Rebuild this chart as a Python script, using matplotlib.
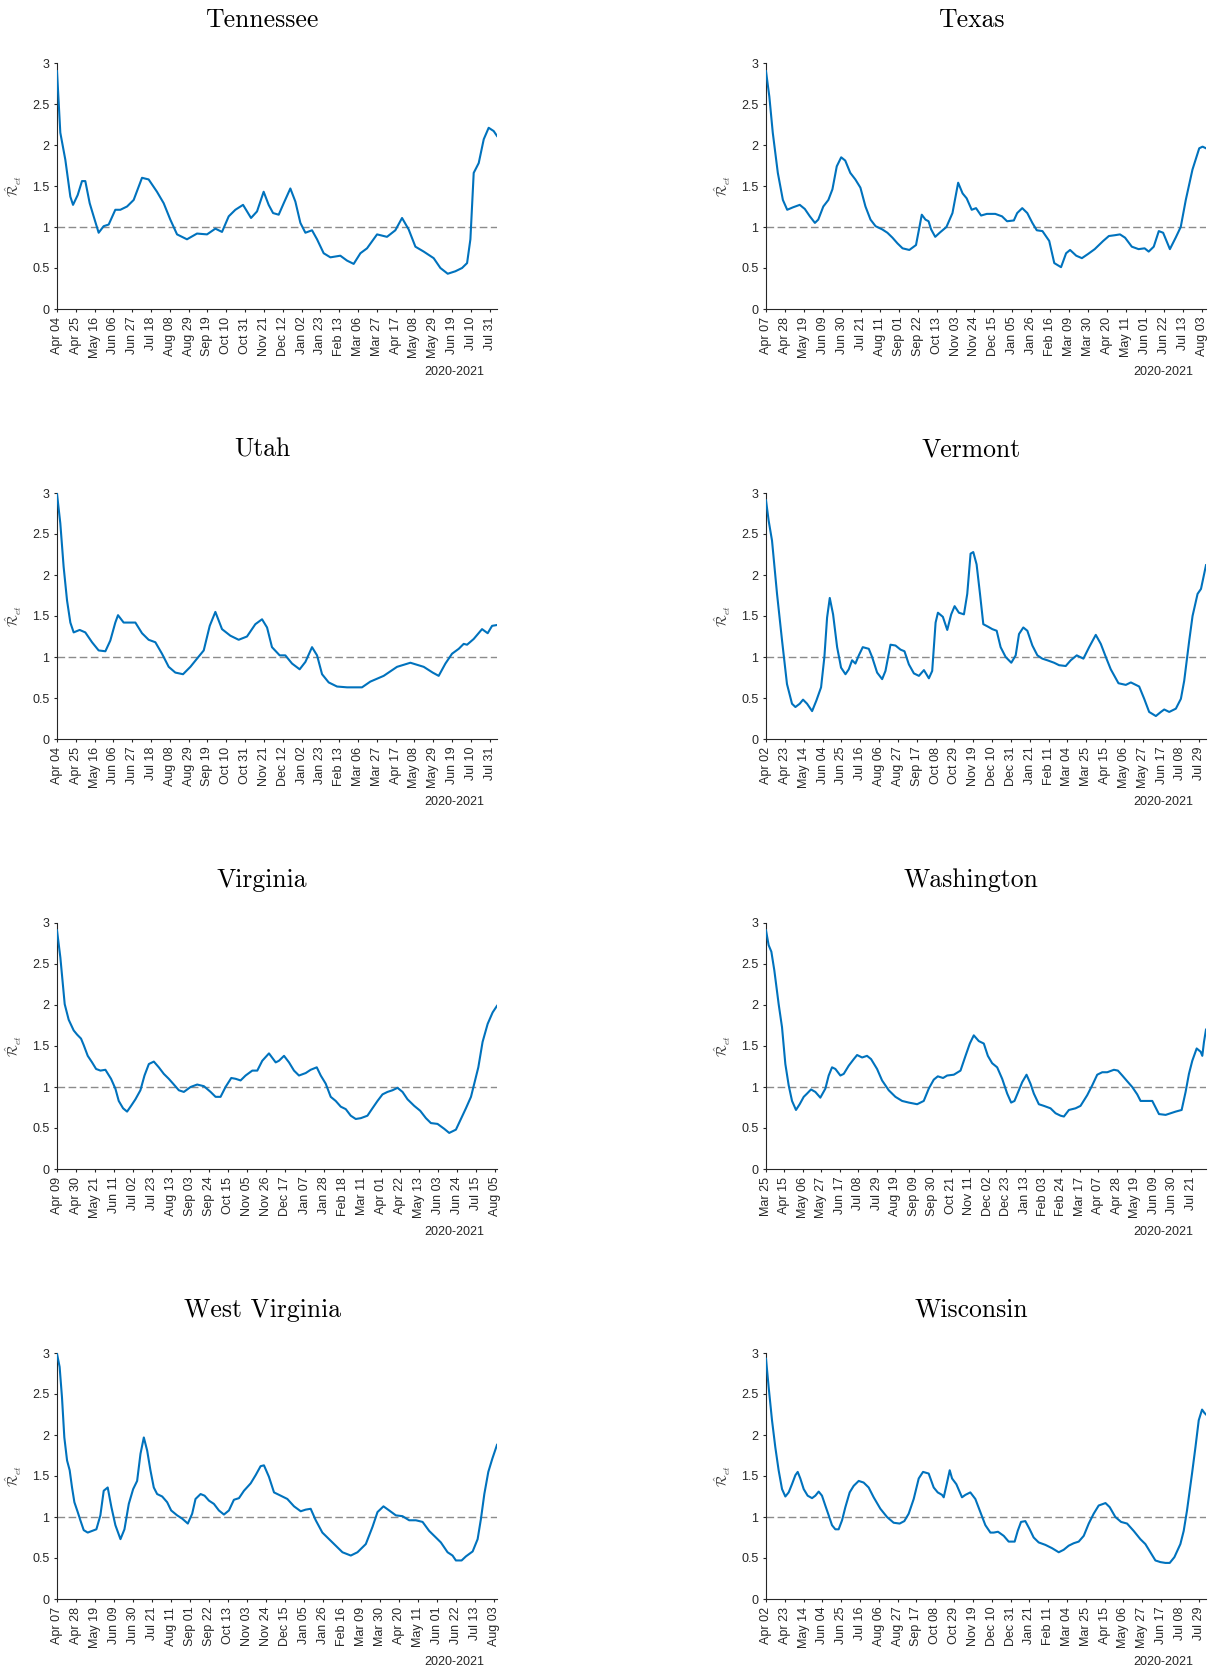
import numpy as np
import matplotlib
matplotlib.use("Agg")
import matplotlib.pyplot as plt
import matplotlib.dates as mdates

plt.rcParams["font.family"] = ["Liberation Sans", "DejaVu Sans"]
plt.rcParams["mathtext.fontset"] = "cm"

# --- data: days since first estimate, R_et estimate ---
states = ["Tennessee", "Texas", "Utah", "Vermont",
          "Virginia", "Washington", "West Virginia", "Wisconsin"]
start_dates = ["2020-04-04", "2020-04-07", "2020-04-04", "2020-04-02",
               "2020-04-09", "2020-03-25", "2020-04-07", "2020-04-02"]

tn_days = [0, 3.7, 9.3, 14.9, 17.9, 23.1, 27.9, 31.6, 36.5, 40.9, 46.5, 52.1, 57.7, 65.1, 70.7,
           78.2, 85.6, 94.9, 102.3, 111.6, 119.1, 126.5, 134.0, 145.1, 156.3, 167.5, 176.8, 184.2,
           191.7, 199.1, 207.7, 216.6, 223.3, 230.7, 236.3, 241.2, 247.5, 253.1, 260.5, 266.1,
           271.7, 277.3, 284.7, 290.3, 297.7, 305.2, 316.3, 323.8, 331.2, 338.7, 346.1, 357.3,
           368.4, 377.7, 385.2, 392.6, 400.1, 409.4, 420.5, 428.0, 436.2, 444.7, 452.2, 457.8,
           461.5, 465.2, 470.8, 476.4, 481.9, 487.5, 491.2]
tn_r = [2.90, 2.15, 1.82, 1.37, 1.27, 1.39, 1.56, 1.56, 1.29, 1.13, 0.93, 1.01, 1.03, 1.21, 1.21,
        1.25, 1.33, 1.60, 1.58, 1.43, 1.29, 1.09, 0.91, 0.85, 0.92, 0.91, 0.98, 0.94,
        1.13, 1.21, 1.27, 1.11, 1.19, 1.43, 1.27, 1.17, 1.15, 1.29, 1.47, 1.31,
        1.05, 0.93, 0.96, 0.85, 0.68, 0.63, 0.65, 0.59, 0.55, 0.68, 0.74, 0.91,
        0.88, 0.96, 1.11, 0.97, 0.76, 0.70, 0.62, 0.50, 0.43, 0.46, 0.50, 0.56,
        0.85, 1.66, 1.78, 2.07, 2.21, 2.17, 2.11]

tx_days = [0, 3.7, 7.5, 13.1, 18.7, 23.5, 29.9, 37.4, 43.0, 48.6, 54.2, 57.9, 63.5, 69.1, 73.6,
           78.4, 83.3, 87.8, 93.4, 99.0, 104.6, 110.2, 115.8, 121.4, 128.9, 134.5, 140.1, 145.7,
           151.3, 158.8, 166.2, 172.6, 176.7, 180.1, 183.0, 187.5, 192.4, 199.9, 206.6, 212.9,
           217.8, 222.3, 227.9, 232.7, 238.3, 244.7, 254.0, 261.5, 267.1, 274.6, 278.3, 283.9,
           289.5, 295.1, 300.0, 306.3, 313.8, 319.4, 326.9, 332.5, 336.9, 343.7, 350.0, 356.7,
           364.2, 373.6, 379.9, 386.6, 392.2, 397.8, 405.3, 412.8, 419.5, 424.0, 429.6, 435.2,
           440.0, 447.5, 453.9, 459.5, 465.1, 472.5, 480.0, 483.7, 487.5]
tx_r = [2.90, 2.59, 2.15, 1.66, 1.33, 1.21, 1.24, 1.27, 1.22, 1.13, 1.05, 1.09, 1.25, 1.33, 1.46,
        1.74, 1.85, 1.81, 1.66, 1.58, 1.48, 1.25, 1.09, 1.01, 0.97, 0.93, 0.87, 0.80,
        0.74, 0.72, 0.78, 1.15, 1.09, 1.07, 0.97, 0.88, 0.93, 1.00, 1.17, 1.54,
        1.41, 1.35, 1.21, 1.23, 1.14, 1.16, 1.16, 1.13, 1.07, 1.08, 1.17, 1.23,
        1.17, 1.05, 0.96, 0.95, 0.83, 0.56, 0.51, 0.68, 0.72, 0.65, 0.62, 0.67,
        0.73, 0.83, 0.89, 0.90, 0.91, 0.87, 0.76, 0.73, 0.74, 0.70, 0.76, 0.95,
        0.93, 0.73, 0.87, 1.00, 1.33, 1.70, 1.96, 1.98, 1.96]

ut_days = [0, 3.7, 7.4, 11.2, 14.9, 18.6, 25.3, 31.6, 39.1, 46.5, 54.0, 59.5, 65.1, 68.1, 74.4,
           81.9, 87.5, 94.9, 102.3, 109.8, 117.2, 124.7, 132.1, 140.7, 148.9, 156.3, 163.8, 170.5,
           176.8, 184.2, 193.5, 202.8, 212.1, 221.4, 228.9, 234.5, 240.0, 248.6, 254.9, 262.4,
           270.9, 277.3, 284.7, 290.3, 295.9, 303.3, 312.6, 323.8, 340.5, 349.8, 364.7, 379.6,
           394.5, 409.4, 419.4, 426.1, 433.6, 441.0, 448.5, 454.0, 457.8, 465.2, 474.5, 480.8,
           485.7, 491.2]
ut_r = [2.99, 2.63, 2.10, 1.69, 1.42, 1.30, 1.33, 1.30, 1.18, 1.08, 1.07, 1.20, 1.42, 1.51, 1.42,
        1.42, 1.42, 1.29, 1.21, 1.18, 1.04, 0.88, 0.81, 0.79, 0.88, 0.98, 1.08, 1.38,
        1.55, 1.34, 1.26, 1.21, 1.25, 1.40, 1.46, 1.36, 1.12, 1.02, 1.02, 0.92,
        0.85, 0.94, 1.12, 1.02, 0.79, 0.69, 0.64, 0.63, 0.63, 0.70, 0.77, 0.88,
        0.93, 0.88, 0.81, 0.77, 0.92, 1.04, 1.10, 1.16, 1.15, 1.22, 1.34, 1.29,
        1.38, 1.39]

vt_days = [0, 3.0, 6.7, 12.3, 17.9, 23.4, 29.0, 32.8, 37.6, 41.3, 45.8, 51.4, 56.2, 61.4, 65.1,
           68.1, 71.1, 74.8, 79.3, 83.7, 88.6, 92.3, 96.0, 99.7, 103.5, 107.9, 114.6, 118.3,
           123.9, 129.5, 133.2, 138.8, 144.4, 150.0, 154.4, 159.3, 164.9, 170.5, 176.1, 181.6,
           185.3, 189.1, 191.7, 197.2, 202.1, 206.5, 210.3, 215.1, 220.7, 224.4, 228.1, 231.1,
           234.8, 238.6, 242.3, 247.5, 252.3, 257.2, 261.6, 267.2, 273.5, 278.4, 282.1, 286.9,
           291.4, 297.0, 302.6, 308.1, 313.7, 321.2, 326.8, 334.2, 339.8, 346.5, 353.9, 360.3,
           367.7, 373.3, 378.9, 384.4, 393.0, 401.2, 406.8, 416.1, 421.7, 427.2, 434.7, 440.3,
           444.0, 449.6, 457.0, 462.6, 466.3, 471.9, 475.6, 481.2, 485.0, 490.6]
vt_r = [2.91, 2.66, 2.42, 1.77, 1.20, 0.67, 0.43, 0.39, 0.43, 0.48, 0.43, 0.34, 0.47, 0.63, 1.00,
        1.48, 1.72, 1.52, 1.12, 0.87, 0.79, 0.85, 0.96, 0.92, 1.02, 1.12, 1.10, 1.00,
        0.81, 0.73, 0.83, 1.15, 1.14, 1.09, 1.07, 0.91, 0.80, 0.77, 0.84, 0.74,
        0.83, 1.42, 1.54, 1.49, 1.33, 1.52, 1.62, 1.54, 1.52, 1.77, 2.26, 2.28,
        2.13, 1.77, 1.40, 1.37, 1.34, 1.32, 1.12, 1.00, 0.93, 1.02, 1.28, 1.36,
        1.32, 1.14, 1.02, 0.98, 0.96, 0.93, 0.90, 0.89, 0.96, 1.02, 0.98, 1.12,
        1.27, 1.16, 1.00, 0.85, 0.68, 0.66, 0.69, 0.64, 0.49, 0.33, 0.28, 0.33,
        0.36, 0.33, 0.37, 0.49, 0.71, 1.20, 1.50, 1.77, 1.83, 2.12]

va_days = [0, 3.7, 8.5, 12.9, 18.4, 22.1, 26.5, 29.5, 33.9, 38.7, 43.1, 47.9, 53.4, 59.6, 64.4,
           68.1, 72.9, 77.3, 81.7, 86.5, 92.0, 96.5, 101.3, 106.8, 112.3, 117.8, 123.3, 128.9,
           134.4, 139.9, 147.3, 154.6, 162.0, 169.4, 174.9, 180.4, 185.9, 192.2, 197.0, 202.5,
           208.0, 215.4, 220.9, 226.4, 233.8, 241.2, 244.8, 250.4, 255.9, 261.4, 266.9, 274.3,
           279.8, 286.5, 290.9, 296.4, 301.9, 307.4, 313.0, 318.5, 324.0, 329.5, 335.1, 342.4,
           347.9, 353.5, 359.0, 364.5, 370.0, 375.6, 381.1, 386.6, 394.0, 400.6, 406.9, 412.4,
           419.7, 427.1, 432.6, 440.0, 445.5, 451.0, 456.6, 460.2, 464.7, 469.4, 475.0, 480.5,
           485.3]
va_r = [2.91, 2.58, 2.01, 1.82, 1.69, 1.64, 1.59, 1.51, 1.38, 1.30, 1.22, 1.20, 1.21, 1.10, 0.98,
        0.83, 0.74, 0.70, 0.77, 0.85, 0.96, 1.14, 1.28, 1.31, 1.24, 1.16, 1.10, 1.03,
        0.96, 0.94, 1.00, 1.03, 1.01, 0.94, 0.88, 0.88, 1.00, 1.11, 1.10, 1.08,
        1.14, 1.20, 1.20, 1.32, 1.41, 1.30, 1.32, 1.38, 1.30, 1.20, 1.14, 1.17,
        1.21, 1.24, 1.14, 1.04, 0.88, 0.83, 0.76, 0.73, 0.65, 0.61, 0.62, 0.65,
        0.74, 0.83, 0.91, 0.94, 0.96, 0.99, 0.94, 0.85, 0.77, 0.71, 0.62, 0.56,
        0.55, 0.49, 0.44, 0.48, 0.61, 0.74, 0.88, 1.04, 1.24, 1.55, 1.77, 1.91,
        1.99]

wa_days = [0, 3.0, 6.1, 9.5, 14.4, 18.2, 22.0, 25.8, 29.6, 34.1, 38.3, 42.9, 46.7, 51.2, 56.1,
           61.8, 67.5, 71.3, 75.1, 78.9, 84.6, 88.4, 94.1, 99.8, 103.6, 109.3, 114.9, 119.5,
           126.3, 132.0, 139.6, 147.2, 154.8, 162.4, 171.9, 179.4, 185.1, 190.8, 195.4, 201.4,
           206.0, 213.6, 221.2, 226.9, 231.8, 236.3, 242.0, 247.7, 252.3, 257.2, 262.9, 268.6,
           274.3, 278.8, 282.6, 287.6, 291.4, 296.3, 300.8, 304.6, 310.3, 316.0, 323.6, 329.3,
           335.0, 338.8, 344.5, 352.0, 357.7, 365.3, 371.0, 376.7, 382.4, 388.1, 395.7, 400.2,
           405.2, 410.8, 416.5, 422.2, 426.0, 433.6, 439.3, 443.1, 446.9, 454.5, 460.2, 465.9,
           472.7, 477.2, 481.0, 484.8, 489.8, 494.3, 496.2, 498.1, 500.4]
wa_r = [2.91, 2.73, 2.65, 2.42, 2.01, 1.73, 1.28, 1.02, 0.83, 0.72, 0.79, 0.88, 0.92, 0.97, 0.94,
        0.87, 0.98, 1.14, 1.24, 1.22, 1.14, 1.16, 1.26, 1.34, 1.39, 1.36, 1.38, 1.34,
        1.22, 1.08, 0.96, 0.88, 0.83, 0.81, 0.79, 0.83, 0.98, 1.09, 1.13, 1.11,
        1.14, 1.15, 1.20, 1.38, 1.53, 1.63, 1.56, 1.53, 1.38, 1.29, 1.24, 1.10,
        0.92, 0.81, 0.83, 0.96, 1.06, 1.15, 1.04, 0.92, 0.79, 0.77, 0.74, 0.68,
        0.65, 0.64, 0.72, 0.74, 0.77, 0.90, 1.02, 1.15, 1.18, 1.18, 1.21, 1.20,
        1.14, 1.07, 1.00, 0.91, 0.83, 0.83, 0.83, 0.75, 0.67, 0.66, 0.68, 0.70,
        0.72, 0.94, 1.16, 1.32, 1.47, 1.43, 1.38, 1.55, 1.70]

wv_days = [0, 2.9, 5.5, 8.1, 11.1, 14.0, 16.6, 19.2, 22.9, 25.8, 29.5, 33.9, 38.7, 43.5, 47.9,
           51.6, 56.0, 60.1, 64.5, 70.1, 74.5, 79.3, 84.1, 88.5, 92.2, 95.9, 99.6, 103.2,
           106.9, 110.6, 116.2, 121.7, 126.1, 132.7, 138.3, 144.5, 149.3, 153.0, 158.6, 163.0,
           167.8, 173.3, 178.8, 184.4, 189.9, 195.4, 201.0, 206.5, 213.9, 219.4, 224.9, 228.6,
           234.1, 239.7, 247.1, 254.4, 261.8, 269.2, 274.7, 280.2, 285.8, 293.1, 300.5, 307.9,
           315.3, 324.5, 331.9, 341.1, 348.5, 354.0, 360.6, 366.9, 374.3, 381.6, 389.0, 396.4,
           403.8, 411.1, 418.5, 424.0, 431.4, 436.9, 440.6, 446.9, 451.7, 459.1, 464.6, 468.3,
           472.0, 476.4, 480.8, 486.0]
wv_r = [2.99, 2.83, 2.46, 1.97, 1.69, 1.57, 1.36, 1.18, 1.06, 0.96, 0.84, 0.81, 0.83, 0.85, 1.02,
        1.32, 1.36, 1.12, 0.90, 0.73, 0.85, 1.16, 1.34, 1.44, 1.77, 1.97, 1.81, 1.57,
        1.36, 1.28, 1.25, 1.18, 1.08, 1.02, 0.98, 0.92, 1.04, 1.22, 1.28, 1.26,
        1.20, 1.16, 1.08, 1.03, 1.08, 1.21, 1.23, 1.32, 1.41, 1.51, 1.62, 1.63,
        1.49, 1.30, 1.26, 1.22, 1.13, 1.07, 1.09, 1.10, 0.96, 0.81, 0.73, 0.65,
        0.57, 0.53, 0.57, 0.67, 0.88, 1.06, 1.13, 1.08, 1.02, 1.01, 0.96, 0.96,
        0.94, 0.83, 0.75, 0.69, 0.57, 0.53, 0.47, 0.47, 0.52, 0.58, 0.73, 0.98,
        1.28, 1.55, 1.71, 1.88]

wi_days = [0, 3.0, 6.7, 10.4, 14.1, 17.9, 21.6, 25.3, 29.0, 32.8, 35.4, 38.3, 42.1, 46.5, 51.4,
           55.1, 58.8, 62.5, 66.2, 70.0, 73.7, 77.4, 81.1, 84.9, 88.6, 93.4, 97.9, 103.5,
           109.0, 114.6, 120.2, 127.7, 135.1, 142.5, 149.2, 154.4, 159.3, 164.9, 170.5, 175.3,
           181.6, 187.2, 191.7, 196.5, 198.4, 202.1, 205.1, 207.7, 212.5, 218.8, 222.6, 228.1,
           233.7, 239.3, 244.9, 250.5, 254.2, 259.0, 265.4, 270.9, 277.6, 281.0, 284.7, 289.5,
           294.4, 298.8, 304.4, 311.9, 319.3, 326.8, 332.3, 337.9, 343.5, 349.1, 354.7, 360.3,
           365.8, 371.4, 379.0, 383.7, 390.0, 396.4, 403.1, 410.5, 417.9, 423.5, 429.1, 434.7,
           440.3, 445.9, 450.7, 455.9, 462.6, 466.3, 470.0, 475.6, 479.4, 483.1, 486.8, 489.4,
           491.2]
wi_r = [2.93, 2.58, 2.18, 1.85, 1.57, 1.34, 1.25, 1.30, 1.40, 1.51, 1.55, 1.47, 1.34, 1.26, 1.23,
        1.26, 1.31, 1.26, 1.14, 1.02, 0.90, 0.85, 0.85, 0.96, 1.12, 1.30, 1.38, 1.44,
        1.42, 1.36, 1.24, 1.10, 1.00, 0.93, 0.92, 0.95, 1.04, 1.22, 1.47, 1.55,
        1.53, 1.36, 1.30, 1.27, 1.24, 1.42, 1.57, 1.47, 1.40, 1.24, 1.27, 1.30,
        1.22, 1.06, 0.90, 0.81, 0.81, 0.82, 0.77, 0.70, 0.70, 0.83, 0.94, 0.95,
        0.85, 0.75, 0.69, 0.66, 0.62, 0.57, 0.60, 0.65, 0.68, 0.70, 0.77, 0.92,
        1.04, 1.14, 1.17, 1.12, 1.00, 0.94, 0.92, 0.83, 0.73, 0.67, 0.57, 0.47,
        0.45, 0.44, 0.44, 0.51, 0.67, 0.83, 1.08, 1.53, 1.85, 2.18, 2.31, 2.27,
        2.25]

all_days = [tn_days, tx_days, ut_days, vt_days, va_days, wa_days, wv_days, wi_days]
all_r = [tn_r, tx_r, ut_r, vt_r, va_r, wa_r, wv_r, wi_r]

W, H = 1208, 1666
fig = plt.figure(figsize=(W / 100, H / 100), dpi=100)

col_x = [57, 766]
row_top = [63, 493, 923, 1353]
ax_w, ax_h = 440, 246
ink = "#262626"

for i, name in enumerate(states):
    r, c = divmod(i, 2)
    ax = fig.add_axes([col_x[c] / W, 1 - (row_top[r] + ax_h) / H, ax_w / W, ax_h / H])

    t0 = mdates.datestr2num(start_dates[i])
    x = t0 + np.array(all_days[i])
    ax.plot(x, all_r[i], color="#0072BD", lw=1.5, zorder=3)
    ax.axhline(1, color="#8c8c8c", lw=1.0, linestyle=(0, (5.5, 2.5)), zorder=2)

    ax.set_xlim(x[0], x[-1])
    ax.set_ylim(0, 3)
    ax.set_yticks(np.arange(0, 3.01, 0.5))
    ax.yaxis.set_major_formatter(matplotlib.ticker.FormatStrFormatter("%g"))
    ax.set_xticks(np.arange(x[0], x[-1] + 0.5, 21))
    ax.xaxis.set_major_formatter(mdates.DateFormatter("%b %d"))
    for lab in ax.get_xticklabels():
        lab.set_rotation(90)

    for s in ["top", "right"]:
        ax.spines[s].set_visible(False)
    for s in ["left", "bottom"]:
        ax.spines[s].set_color(ink)
        ax.spines[s].set_linewidth(0.8)
    ax.tick_params(direction="out", length=2.5, width=0.8, color=ink,
                   labelcolor=ink, labelsize=9, pad=3)

    ax.set_ylabel(r"$\hat{\mathcal{R}}_{et}$", fontsize=10, color="#404040")
    ax.yaxis.set_label_coords(-0.075, 0.5)
    ax.set_title(name, family="cmr10", fontsize=18.5, pad=26, x=0.466)
    ax.text(0.972, -0.256, "2020-2021", transform=ax.transAxes, ha="right",
            va="center", fontsize=9, color=ink)

fig.savefig("out.png", dpi=100)
